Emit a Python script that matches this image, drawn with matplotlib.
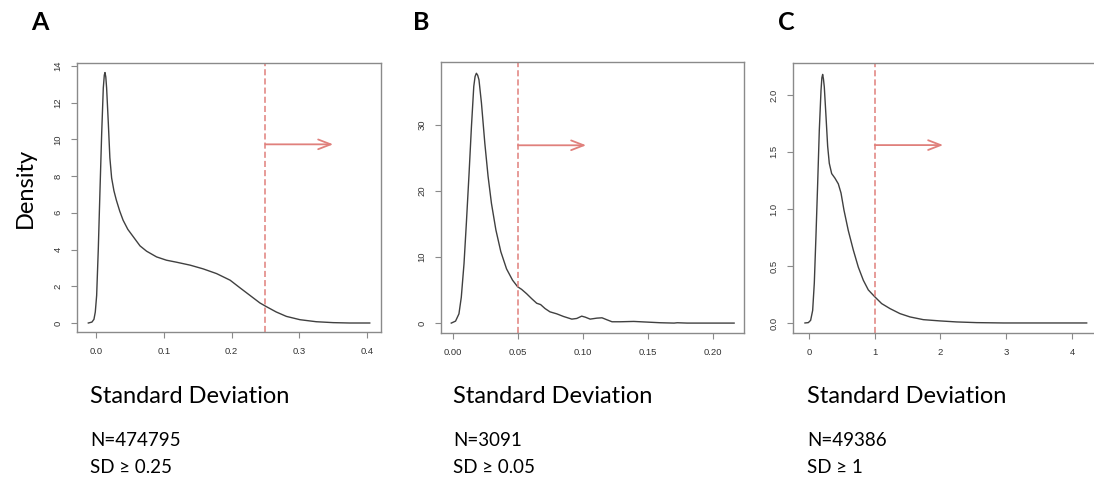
import matplotlib
matplotlib.use("Agg")
import matplotlib.pyplot as plt

# ---- data ----
a_x = [-0.0113, -0.006, -0.003, -0.001, 0.001, 0.0034, 0.0059, 0.0084, 0.0108, 0.0123,
       0.0133, 0.0145, 0.0157, 0.0182, 0.0205, 0.0231, 0.0265, 0.030, 0.035, 0.040,
       0.047, 0.055, 0.065, 0.0747, 0.0894, 0.104, 0.119, 0.139, 0.158, 0.178,
       0.198, 0.212, 0.227, 0.242, 0.251, 0.266, 0.281, 0.301, 0.325, 0.35,
       0.374, 0.404]
a_y = [0.0, 0.05, 0.2, 0.6, 1.5, 4.0, 7.2, 10.3, 12.8, 13.5,
       13.64, 13.4, 12.8, 10.9, 9.0, 7.9, 7.2, 6.7, 6.1, 5.6,
       5.1, 4.7, 4.2, 3.91, 3.6, 3.42, 3.31, 3.15, 2.95, 2.69,
       2.33, 1.93, 1.51, 1.09, 0.9, 0.6, 0.36, 0.18, 0.07, 0.02,
       0.0, 0.0]

b_x = [-0.0013, 0.002, 0.0046, 0.0064, 0.0085, 0.0103, 0.0124, 0.0142, 0.016, 0.017,
       0.018, 0.019, 0.020, 0.0219, 0.0245, 0.027, 0.0296, 0.033, 0.0368, 0.0412,
       0.0458, 0.0497, 0.0528, 0.0566, 0.0605, 0.0644, 0.0674, 0.0708, 0.0746, 0.0798,
       0.085, 0.0914, 0.0952, 0.099, 0.1017, 0.1055, 0.1107, 0.1146, 0.1184, 0.1223,
       0.1287, 0.139, 0.1493, 0.1596, 0.17, 0.1725, 0.18, 0.2162]
b_y = [0.0, 0.3, 1.4, 3.9, 9.0, 15.1, 22.7, 29.7, 35.8, 37.3,
       37.8, 37.5, 36.8, 33.3, 27.2, 22.2, 18.1, 14.1, 10.8, 8.2,
       6.5, 5.5, 5.1, 4.45, 3.7, 3.0, 2.8, 2.2, 1.7, 1.4,
       1.0, 0.6, 0.7, 1.05, 0.9, 0.6, 0.75, 0.8, 0.5, 0.2,
       0.2, 0.25, 0.15, 0.05, 0.0, 0.05, 0.0, 0.0]

c_x = [-0.061, -0.01, 0.025, 0.056, 0.081, 0.106, 0.132, 0.157, 0.183, 0.196,
       0.208, 0.220, 0.233, 0.259, 0.284, 0.309, 0.345, 0.395, 0.446, 0.487,
       0.532, 0.598, 0.674, 0.75, 0.826, 0.902, 1.0, 1.105, 1.232, 1.384,
       1.536, 1.739, 1.992, 2.246, 2.55, 2.956, 4.223]
c_y = [0.0, 0.003, 0.023, 0.11, 0.35, 0.76, 1.22, 1.69, 2.04, 2.15,
       2.18, 2.14, 2.07, 1.81, 1.55, 1.40, 1.31, 1.27, 1.22, 1.14,
       0.99, 0.81, 0.64, 0.49, 0.375, 0.29, 0.23, 0.17, 0.126, 0.082,
       0.053, 0.029, 0.018, 0.009, 0.003, 0.0, 0.0]

panel_letters = ["A", "B", "C"]
thresholds = [0.25, 0.05, 1.0]
arrow_y = [9.73, 26.9, 1.56]
arrow_end = [0.35, 0.1024, 2.04]
x_ticks = [[0.0, 0.1, 0.2, 0.3, 0.4], [0.0, 0.05, 0.10, 0.15, 0.20], [0, 1, 2, 3, 4]]
x_ticklabels = [["0.0", "0.1", "0.2", "0.3", "0.4"],
                ["0.00", "0.05", "0.10", "0.15", "0.20"],
                ["0", "1", "2", "3", "4"]]
y_ticks = [[0, 2, 4, 6, 8, 10, 12, 14], [0, 10, 20, 30], [0.0, 0.5, 1.0, 1.5, 2.0]]
y_ticklabels = [["0", "2", "4", "6", "8", "10", "12", "14"],
                ["0", "10", "20", "30"],
                ["0.0", "0.5", "1.0", "1.5", "2.0"]]
n_labels = ["N=474795", "N=3091", "N=49386"]
sd_labels = ["SD \u2265 0.25", "SD \u2265 0.05", "SD \u2265 1"]

# ---- layout ----
W, H = 1094, 483
fig = plt.figure(figsize=(W / 100, H / 100), dpi=100)

boxes = [(77, 381, 63, 332), (441, 744, 62, 333), (793, 1097, 63, 333)]
xlims = [(-0.028, 0.4206), (-0.0092, 0.2238), (-0.243, 4.38)]
ylims = [(-0.49, 14.16), (-1.5, 39.5), (-0.088, 2.28)]
series = [(a_x, a_y), (b_x, b_y), (c_x, c_y)]
letter_x = [31, 413, 778]
text_x = [90, 453, 807]

frame_col = "#8a8a8a"
red = "#e0807c"
tick_font = ["Liberation Sans", "DejaVu Sans"]
main_font = ["Lato", "DejaVu Sans"]

for i in range(3):
    l, r, t, b = boxes[i]
    ax = fig.add_axes([l / W, 1 - b / H, (r - l) / W, (b - t) / H])
    xs, ys = series[i]
    ax.plot(xs, ys, color="#404040", lw=1.0, solid_joinstyle="round")
    ax.set_xlim(*xlims[i])
    ax.set_ylim(*ylims[i])
    ax.axvline(thresholds[i], color=red, lw=1.1, ls=(0, (4, 2)))
    ax.annotate("", xy=(arrow_end[i], arrow_y[i]), xytext=(thresholds[i], arrow_y[i]),
                arrowprops=dict(arrowstyle="->,head_length=0.9,head_width=0.35",
                                color=red, lw=1.3, shrinkA=0, shrinkB=0))
    for s in ax.spines.values():
        s.set_color(frame_col)
        s.set_linewidth(1.0)
    ax.set_xticks(x_ticks[i])
    ax.set_xticklabels(x_ticklabels[i], fontfamily=tick_font, fontsize=6.8, color="#333333")
    ax.set_yticks(y_ticks[i])
    ax.set_yticklabels(y_ticklabels[i], fontfamily=tick_font, fontsize=6.8, color="#333333",
                       rotation=90, va="center")
    ax.tick_params(axis="both", direction="out", length=4.5, width=0.8, color=frame_col, pad=6)

    fig.text(letter_x[i] / W, 1 - 30 / H, panel_letters[i], fontsize=18, fontweight="bold",
             family=main_font, va="baseline", ha="left")
    fig.text(text_x[i] / W, 1 - 403 / H, "Standard Deviation", fontsize=17,
             family=main_font, va="baseline", ha="left")
    fig.text(text_x[i] / W, 1 - 446 / H, n_labels[i], fontsize=13.5,
             family=main_font, va="baseline", ha="left")
    fig.text(text_x[i] / W, 1 - 473 / H, sd_labels[i], fontsize=13.5,
             family=main_font, va="baseline", ha="left")

fig.text(25 / W, 1 - 188 / H, "Density", fontsize=17, family=main_font,
         rotation=90, va="center", ha="center")

fig.savefig("out.png", dpi=100)
